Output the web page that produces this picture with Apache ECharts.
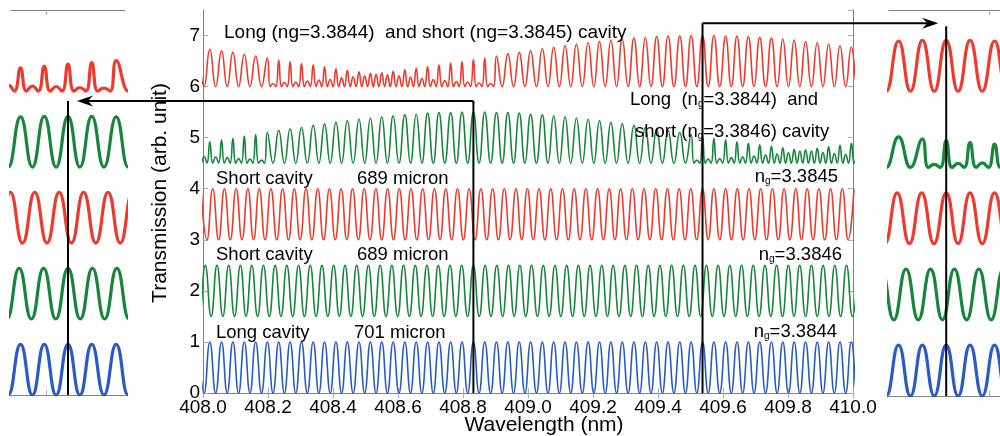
<!DOCTYPE html>
<html>
<head>
<meta charset="utf-8">
<title>Transmission spectra</title>
<script src="https://cdn.jsdelivr.net/npm/echarts@6/dist/echarts.min.js"></script>
<style>
html, body { margin: 0; padding: 0; background: #fff; }
#main { width: 1000px; height: 436px; }
</style>
</head>
<body>
<div id="main"></div>
<script>
// resonance peak wavelengths (nm)
// long cavity, 701 micron, ng=3.3844
const longPeaks = [407.986, 408.021, 408.057, 408.092, 408.127, 408.162, 408.198, 408.233, 408.268, 408.303,
  408.339, 408.374, 408.409, 408.444, 408.480, 408.515, 408.550, 408.585, 408.621, 408.656,
  408.691, 408.726, 408.762, 408.797, 408.832, 408.867, 408.903, 408.938, 408.973, 409.008,
  409.044, 409.079, 409.114, 409.149, 409.185, 409.220, 409.255, 409.290, 409.326, 409.361,
  409.396, 409.431, 409.467, 409.502, 409.537, 409.572, 409.608, 409.643, 409.678, 409.713,
  409.749, 409.784, 409.819, 409.854, 409.890, 409.925, 409.960, 409.995, 410.031];
// short cavity, 689 micron, ng=3.3845
const short5Peaks = [407.994, 408.030, 408.066, 408.102, 408.138, 408.173, 408.209, 408.245, 408.281, 408.317,
  408.353, 408.389, 408.425, 408.460, 408.496, 408.532, 408.568, 408.604, 408.640, 408.676,
  408.712, 408.747, 408.783, 408.819, 408.855, 408.891, 408.927, 408.963, 408.998, 409.034,
  409.070, 409.106, 409.142, 409.178, 409.214, 409.250, 409.285, 409.321, 409.357, 409.393,
  409.429, 409.465, 409.501, 409.537, 409.572, 409.608, 409.644, 409.680, 409.716, 409.752,
  409.788, 409.824, 409.859, 409.895, 409.931, 409.967, 410.003];
// short cavity, 689 micron, ng=3.3846
const short6Peaks = [407.971, 408.007, 408.043, 408.079, 408.115, 408.150, 408.186, 408.222, 408.258, 408.294,
  408.330, 408.366, 408.402, 408.437, 408.473, 408.509, 408.545, 408.581, 408.617, 408.653,
  408.689, 408.724, 408.760, 408.796, 408.832, 408.868, 408.904, 408.940, 408.975, 409.011,
  409.047, 409.083, 409.119, 409.155, 409.191, 409.227, 409.262, 409.298, 409.334, 409.370,
  409.406, 409.442, 409.478, 409.514, 409.549, 409.585, 409.621, 409.657, 409.693, 409.729,
  409.765, 409.801, 409.836, 409.872, 409.908, 409.944, 409.980, 410.016];

// [trough, peak] of the single cavity traces (offset copies)
const blueLevels = [0, 1];
const greenLevels = [1.5, 2.5];
const redLevels = [3, 4];

// long + short (ng=3.3845): peak height at each long-cavity peak, small bump between peaks
const topRedBase = 6;
const topRedPeaks = [6.77, 6.73, 6.70, 6.67, 6.63, 6.60, 6.56, 6.52, 6.49, 6.45, 6.42, 6.39, 6.35, 6.32, 6.29,
  6.26, 6.27, 6.30, 6.33, 6.36, 6.39, 6.42, 6.46, 6.49, 6.53, 6.56, 6.60, 6.64, 6.67, 6.70,
  6.74, 6.77, 6.80, 6.83, 6.86, 6.88, 6.91, 6.93, 6.95, 6.96, 6.98, 6.99, 6.99, 7.00, 7.00,
  7.00, 6.99, 6.99, 6.98, 6.96, 6.95, 6.93, 6.91, 6.88, 6.86, 6.83, 6.80, 6.77, 6.74];
const topRedBumps = [6, 6, 6, 6, 6, 6, 6.06, 6.08, 6.09, 6.11, 6.13, 6.14, 6.17, 6.19, 6.21,
  6.24, 6.23, 6.21, 6.18, 6.16, 6.14, 6.12, 6.10, 6.09, 6.07, 6.06,
  6, 6, 6, 6, 6, 6, 6, 6, 6, 6, 6, 6, 6, 6, 6, 6, 6, 6, 6, 6, 6, 6, 6, 6, 6, 6, 6, 6, 6, 6, 6, 6];

// long + short (ng=3.3846)
const topGreenBase = 4.5;
const topGreenPeaks = [4.89, 4.92, 4.96, 4.99, 5.03, 5.06, 5.10, 5.14, 5.17, 5.20, 5.24, 5.27, 5.30, 5.33, 5.36,
  5.38, 5.41, 5.43, 5.45, 5.46, 5.48, 5.49, 5.49, 5.50, 5.50, 5.50, 5.49, 5.49, 5.48, 5.46,
  5.45, 5.43, 5.41, 5.38, 5.36, 5.33, 5.30, 5.27, 5.24, 5.20, 5.17, 5.14, 5.10, 5.06, 5.03,
  4.99, 4.96, 4.92, 4.89, 4.86, 4.83, 4.80, 4.77, 4.76, 4.79, 4.82, 4.85, 4.89, 4.92];
const topGreenBumps = [4.63, 4.62, 4.61, 4.59, 4.58, 4.56,
  4.5, 4.5, 4.5, 4.5, 4.5, 4.5, 4.5, 4.5, 4.5, 4.5, 4.5, 4.5, 4.5, 4.5, 4.5, 4.5, 4.5, 4.5, 4.5,
  4.5, 4.5, 4.5, 4.5, 4.5, 4.5, 4.5, 4.5, 4.5, 4.5, 4.5, 4.5, 4.5, 4.5, 4.5, 4.5, 4.5, 4.5,
  4.56, 4.58, 4.59, 4.61, 4.62, 4.64, 4.66, 4.68, 4.71, 4.74, 4.74, 4.71, 4.69, 4.67, 4.64];

// wavelengths zoomed in the side panels, and the arrow levels
const markers = [408.832, 409.537];
const arrowLevels = [5.72, 7.24];
const leftRange = [408.748, 408.916];
const rightRange = [409.453, 409.616];

const RED = '#ee3a2c', GREEN = '#16873a', BLUE = '#2a5bc4';
const FONT = 'Liberation Sans, Arial, Helvetica, sans-serif';

function wave(peaks, levels) {
  const pts = [];
  for (let i = 0; i < peaks.length; i++) {
    pts.push([peaks[i], levels[1]]);
    if (i < peaks.length - 1) pts.push([(peaks[i] + peaks[i + 1]) / 2, levels[0]]);
  }
  return pts;
}

function combo(peaks, heights, bumps, base) {
  const pts = [];
  for (let i = 0; i < peaks.length; i++) {
    pts.push([peaks[i], heights[i]]);
    if (i === peaks.length - 1) break;
    const mid = (peaks[i] + peaks[i + 1]) / 2;
    if (bumps[i] > base + 0.001) {
      pts.push([(peaks[i] + mid) / 2, base]);
      pts.push([mid, bumps[i]]);
      pts.push([(mid + peaks[i + 1]) / 2, base]);
    } else {
      pts.push([mid, base]);
    }
  }
  return pts;
}

const curves = [
  { data: wave(longPeaks, blueLevels), color: BLUE },
  { data: wave(short6Peaks, greenLevels), color: GREEN },
  { data: wave(short5Peaks, redLevels), color: RED },
  { data: combo(longPeaks, topGreenPeaks, topGreenBumps, topGreenBase), color: GREEN },
  { data: combo(longPeaks, topRedPeaks, topRedBumps, topRedBase), color: RED }
];

const chart = echarts.init(document.getElementById('main'), null, { renderer: 'canvas' });

const frameLine = { show: true, lineStyle: { color: '#808080', width: 1 } };
const innerTick = { show: true, inside: true, length: 5, lineStyle: { color: '#9ab0c8', width: 1 } };

function panelAxes(grid, range, tick) {
  return [
    { type: 'value', gridIndex: grid, min: range[0], max: range[1], position: 'bottom',
      axisLine: frameLine, axisTick: Object.assign({ customValues: [tick] }, innerTick),
      axisLabel: { show: false }, splitLine: { show: false } },
    { type: 'value', gridIndex: grid, min: range[0], max: range[1], position: 'top',
      axisLine: frameLine, axisTick: Object.assign({ customValues: [tick] }, innerTick),
      axisLabel: { show: false }, splitLine: { show: false } }
  ];
}

const series = [];
[[0, 0, 1.6], [2, 2, 3.2], [4, 3, 3.2]].forEach(function (g) {
  curves.forEach(function (c) {
    series.push({
      type: 'line', xAxisIndex: g[0], yAxisIndex: g[1], data: c.data,
      smooth: 0.5, symbol: 'none', silent: true,
      lineStyle: { color: c.color, width: g[2] }
    });
  });
});

chart.setOption({
  animation: false,
  backgroundColor: '#ffffff',
  grid: [
    { left: 203, right: 147, top: 10, bottom: 43 },
    { left: 11, width: 114, top: 10, bottom: 41 },
    { left: 889, right: 0, top: 10, bottom: 40 }
  ],
  xAxis: [
    { type: 'value', gridIndex: 0, min: 408, max: 410, interval: 0.2, position: 'bottom',
      axisLine: frameLine, axisTick: innerTick, splitLine: { show: false },
      axisLabel: { color: '#000', fontSize: 19, fontFamily: FONT, margin: 5,
        formatter: function (v) { return v.toFixed(1); } } },
    { type: 'value', gridIndex: 0, min: 408, max: 410, interval: 0.2, position: 'top',
      axisLine: frameLine, axisTick: innerTick, splitLine: { show: false }, axisLabel: { show: false } }
  ].concat(panelAxes(1, leftRange, 408.8), panelAxes(2, rightRange, 409.6)),
  yAxis: [
    { type: 'value', gridIndex: 0, min: 0, max: 7.5, interval: 1, position: 'left',
      axisLine: frameLine, axisTick: innerTick, splitLine: { show: false },
      axisLabel: { color: '#000', fontSize: 19, fontFamily: FONT, margin: 3, showMaxLabel: false } },
    { type: 'value', gridIndex: 0, min: 0, max: 7.5, interval: 1, position: 'right',
      axisLine: frameLine, axisTick: innerTick, splitLine: { show: false }, axisLabel: { show: false } },
    { type: 'value', gridIndex: 1, min: 0, max: 7.6, show: false },
    { type: 'value', gridIndex: 2, min: 0, max: 7.6, show: false }
  ],
  series: series
});

// annotation texts
const notes = [
  { t: 'Long (ng=3.3844)  and short (ng=3.3845) cavity', x: 224, y: 33, size: 19 },
  { t: 'Long  (n{s|g}=3.3844)  and', x: 630, y: 100 },
  { t: 'short (n{s|g}=3.3846) cavity', x: 635, y: 132 },
  { t: 'Short cavity', x: 216, y: 179 },
  { t: '689 micron', x: 357, y: 179 },
  { t: 'n{s|g}=3.3845', x: 838, y: 177, align: 'right' },
  { t: 'Short cavity', x: 216, y: 255 },
  { t: '689 micron', x: 357, y: 255 },
  { t: 'n{s|g}=3.3846', x: 842, y: 255, align: 'right' },
  { t: 'Long cavity', x: 216, y: 333 },
  { t: '701 micron', x: 354, y: 333 },
  { t: 'n{s|g}=3.3844', x: 837, y: 332, align: 'right' }
];

function px(grid, x, y) {
  return chart.convertToPixel({ gridIndex: grid }, [x, y]);
}

const graphics = [];
notes.forEach(function (n) {
  graphics.push({
    type: 'text', x: n.x, y: n.y, z: 50, silent: true,
    style: {
      text: n.t, fill: '#000', fontSize: n.size || 18.5, fontFamily: FONT,
      align: n.align || 'left', verticalAlign: 'middle',
      rich: { s: { fontSize: 10, fontFamily: FONT, fill: '#000', verticalAlign: 'bottom' } }
    }
  });
});

graphics.push({
  type: 'text', x: 160, y: 193, rotation: Math.PI / 2, silent: true,
  style: { text: 'Transmission (arb. unit)', fill: '#000', fontSize: 21, fontFamily: FONT,
    align: 'center', verticalAlign: 'middle' }
});
graphics.push({
  type: 'text', x: 544, y: 425, silent: true,
  style: { text: 'Wavelength (nm)', fill: '#000', fontSize: 21, fontFamily: FONT,
    align: 'center', verticalAlign: 'middle' }
});

function seg(p, q) {
  graphics.push({ type: 'line', z: 60, silent: true,
    shape: { x1: p[0], y1: p[1], x2: q[0], y2: q[1] },
    style: { stroke: '#000', lineWidth: 2 } });
}
function head(tx, ty, dir) {
  graphics.push({ type: 'polygon', z: 61, silent: true,
    shape: { points: [[tx, ty], [tx + 16 * dir, ty - 5.5], [tx + 11 * dir, ty], [tx + 16 * dir, ty + 5.5]] },
    style: { fill: '#000' } });
}

// left zoom: main plot line, panel line, arrow pointing left
const a0 = px(0, markers[0], arrowLevels[0]);
seg(a0, px(0, markers[0], 0));
const c0 = px(1, markers[0], arrowLevels[0]);
seg([c0[0], a0[1]], px(1, markers[0], 0));
seg(a0, [c0[0] + 12, a0[1]]);
head(c0[0] + 9, a0[1], 1);

// right zoom: arrow pointing right
const e0 = px(0, markers[1], arrowLevels[1]);
seg(e0, px(0, markers[1], 0));
const g0 = px(2, markers[1], 0);
seg([g0[0], e0[1] + 3], g0);
seg(e0, [g0[0] - 12, e0[1]]);
head(g0[0] - 8, e0[1], -1);

chart.setOption({ graphic: graphics });
</script>
</body>
</html>
